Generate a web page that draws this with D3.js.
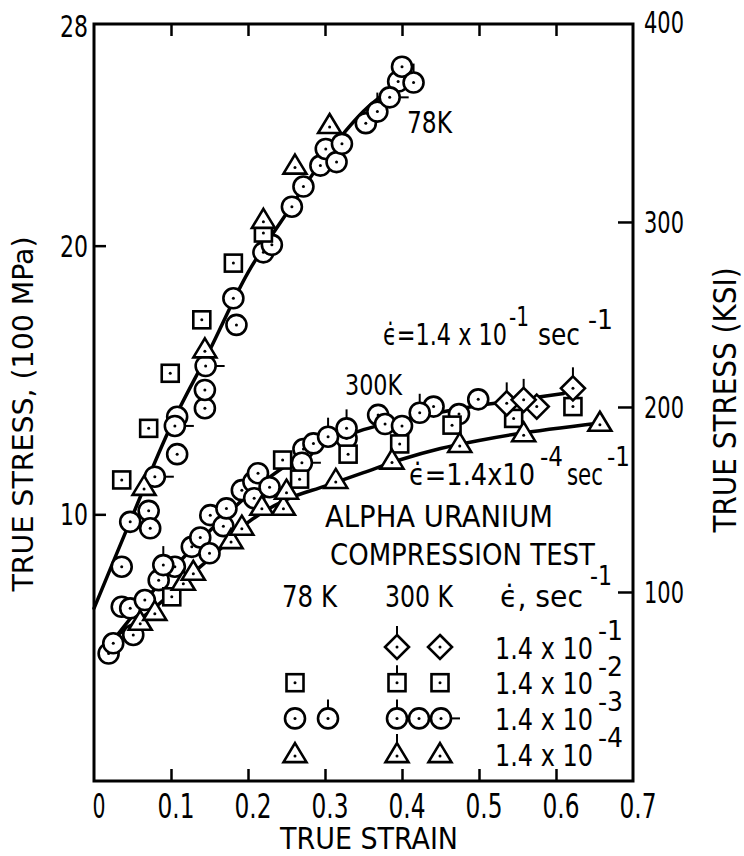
<!DOCTYPE html>
<html>
<head>
<meta charset="utf-8">
<script src="https://cdn.jsdelivr.net/npm/d3@7"></script>
<style>
  body { margin: 0; background: #fff; }
  text { font-family: "DejaVu Sans Condensed", "Liberation Sans Narrow", "DejaVu Sans", sans-serif; fill: #000; }
</style>
</head>
<body>
<div id="chart"></div>
<script>
// ---- axis ticks
const strainTicks = [0, 0.1, 0.2, 0.3, 0.4, 0.5, 0.6, 0.7];
const strainLabels = ['0', '0.1', '0.2', '0.3', '0.4', '0.5', '0.6', '0.7'];
const stressTicks = [10, 20, 28];
const ksiTicks = [100, 200, 300, 400];

// ---- fitted curves (strain, stress in 100 MPa)
const fit78 = [[0, 6.5], [0.05, 9.95], [0.1, 13.3], [0.15, 16.1], [0.2, 19.0], [0.25, 21.2],
  [0.3, 23.3], [0.35, 25.0], [0.4, 26.2], [0.41, 26.6]];
const fit300Fast = [[0.03, 5.5], [0.08, 7.25], [0.13, 8.8], [0.18, 10.2], [0.22, 11.2], [0.26, 12.0],
  [0.3, 12.6], [0.35, 13.15], [0.4, 13.5], [0.45, 13.8], [0.5, 14.05], [0.55, 14.25], [0.61, 14.5]];
const fit300Slow = [[0.03, 5.5], [0.08, 6.55], [0.12, 7.6], [0.16, 8.6], [0.2, 9.7], [0.25, 10.55],
  [0.3, 11.05], [0.35, 11.55], [0.4, 12.05], [0.45, 12.45], [0.5, 12.75], [0.55, 13.0], [0.657, 13.4]];

// ---- 78 K data points
const k78Squares = [[0.036, 11.28], [0.071, 13.2], [0.099, 15.25], [0.14, 17.24], [0.181, 19.35], [0.22, 20.47]];
const k78Triangles = [[0.065, 11.02], [0.144, 16.14], [0.22, 20.96], [0.261, 22.98], [0.306, 24.49]];
const k78Circles = [[0.036, 8.05], [0.047, 9.72], [0.071, 10.13], [0.073, 9.48], [0.108, 12.24], [0.108, 13.63],
  [0.144, 13.95], [0.144, 14.63], [0.181, 18.04], [0.185, 17.05], [0.22, 19.75], [0.231, 20.03], [0.257, 21.45],
  [0.272, 22.2], [0.294, 22.98], [0.301, 23.6], [0.315, 23.11], [0.322, 23.79], [0.353, 24.56], [0.395, 26.11],
  [0.4, 26.66]];
const k78CirclesTop = [[0.368, 24.99], [0.415, 26.07]];
const k78CirclesRight = [[0.079, 11.4], [0.105, 13.29], [0.145, 15.52], [0.384, 25.52]];

// ---- 300 K data points
const k300DiamondsTop = [[0.536, 14.13], [0.558, 14.26], [0.622, 14.69]];
const k300Diamonds = [[0.575, 14.01]];
const k300Squares = [[0.101, 6.93], [0.245, 12.02], [0.267, 11.31], [0.33, 12.24], [0.397, 12.62],
  [0.465, 13.32], [0.545, 13.57], [0.622, 14.01]];
const k300Circles = [[0.019, 4.82], [0.025, 5.2], [0.036, 6.56], [0.047, 6.5], [0.051, 5.51], [0.066, 6.81],
  [0.084, 7.55], [0.105, 8.05], [0.127, 8.79], [0.138, 9.14], [0.15, 8.55], [0.151, 9.97], [0.168, 9.56],
  [0.172, 10.22], [0.192, 10.9], [0.207, 11.21], [0.208, 10.6], [0.213, 11.53], [0.228, 11.01], [0.272, 12.43],
  [0.285, 12.64], [0.328, 12.83], [0.369, 13.7], [0.378, 13.36], [0.4, 13.29], [0.441, 14.01], [0.474, 13.73],
  [0.499, 14.28]];
const k300CirclesTop = [[0.09, 8.11], [0.304, 12.89], [0.328, 13.2], [0.423, 13.78]];
const k300CirclesRight = [[0.27, 11.92]];
const k300Triangles = [[0.06, 6.0], [0.079, 6.37], [0.116, 7.49], [0.129, 7.86], [0.178, 9.04], [0.192, 9.54],
  [0.218, 10.28], [0.246, 10.28], [0.25, 10.88], [0.314, 11.28], [0.387, 12.0], [0.475, 12.62], [0.558, 13.02],
  [0.657, 13.41]];

// ---- legend
const legendExps = ['-1', '-2', '-3', '-4'];
const legend78 = [[], [['square', null]], [['circle', null], ['circle', 'top']], [['triangle', null]]];
const legend300 = [[['diamond', 'top'], ['diamond', null]], [['square', 'top'], ['square', null]],
  [['circle', 'top'], ['circle', null], ['circle', 'right']], [['triangle', 'top'], ['triangle', null]]];

const W = 744, H = 856;
const frameL = 94, frameR = 633, frameT = 24, frameB = 781;

let svg = d3.select('#chart').append('svg')
  .attr('width', W)
  .attr('height', H);

let x = d3.scaleLinear().domain([0, 0.7]).range([frameL, frameR]);
let y = d3.scaleLinear().domain([0, 28.25]).range([783, frameT]);
let yKsi = d3.scaleLinear().domain([-3.24, 407]).range([783, frameT]);

// frame
svg.append('rect')
  .attr('x', frameL).attr('y', frameT)
  .attr('width', frameR - frameL).attr('height', frameB - frameT)
  .attr('fill', 'none').attr('stroke', '#000').attr('stroke-width', 3);

// inward ticks with the axis generators, labels drawn separately
function tickOnly(g) {
  g.select('.domain').remove();
  g.selectAll('text').remove();
  g.selectAll('line').attr('stroke', '#000').attr('stroke-width', 2.5);
}
let inner = strainTicks.filter(d => d > 0 && d < 0.7);
svg.append('g').attr('transform', `translate(0,${frameB})`)
  .call(d3.axisTop(x).tickValues(inner).tickSize(12)).call(tickOnly);
svg.append('g').attr('transform', `translate(0,${frameT})`)
  .call(d3.axisBottom(x).tickValues(inner).tickSize(12)).call(tickOnly);
svg.append('g').attr('transform', `translate(${frameL},0)`)
  .call(d3.axisRight(y).tickValues(stressTicks.filter(d => d < 28)).tickSize(12)).call(tickOnly);
svg.append('g').attr('transform', `translate(${frameR},0)`)
  .call(d3.axisLeft(yKsi).tickValues(ksiTicks.filter(d => d < 400)).tickSize(15)).call(tickOnly);

// tick labels
svg.selectAll('.xl').data(strainTicks).enter()
  .append('text')
    .attr('x', d => x(d) + 5)
    .attr('y', 818)
    .attr('text-anchor', 'middle')
    .attr('font-size', 34)
    .attr('textLength', (d, i) => i == 0 ? 13 : 37)
    .attr('lengthAdjust', 'spacingAndGlyphs')
    .text((d, i) => strainLabels[i]);

svg.selectAll('.yl').data(stressTicks).enter()
  .append('text')
    .attr('x', 88)
    .attr('y', d => d == 28 ? 37 : y(d) + 11)
    .attr('text-anchor', 'end')
    .attr('font-size', 31)
    .attr('textLength', 28)
    .attr('lengthAdjust', 'spacingAndGlyphs')
    .text(d => d);

svg.selectAll('.kl').data(ksiTicks).enter()
  .append('text')
    .attr('x', 644)
    .attr('y', d => d == 400 ? 33 : yKsi(d) + 11)
    .attr('font-size', 31)
    .attr('textLength', 40)
    .attr('lengthAdjust', 'spacingAndGlyphs')
    .text(d => d);

// plain text helper
function txt(str, x0, yb, size, len, extra) {
  let t = svg.append('text')
    .attr('x', x0).attr('y', yb)
    .attr('font-size', size)
    .text(str);
  if (len) t.attr('textLength', len).attr('lengthAdjust', 'spacingAndGlyphs');
  if (extra) extra(t);
  return t;
}
// one text made of pieces: [string, x, baseline, size, length]
function multi(parts) {
  let t = svg.append('text');
  parts.forEach(p => {
    t.append('tspan')
      .attr('x', p[1]).attr('y', p[2])
      .attr('font-size', p[3])
      .attr('textLength', p[4])
      .attr('lengthAdjust', 'spacingAndGlyphs')
      .text(p[0]);
  });
  return t;
}

txt('TRUE STRAIN', 280, 849, 31, 178);
txt('TRUE STRESS, (100 MPa)', 0, 0, 28, 355, t => t
  .attr('text-anchor', 'middle')
  .attr('transform', 'translate(33,414) rotate(-90)'));
txt('TRUE STRESS (KSI)', 0, 0, 32, 265, t => t
  .attr('text-anchor', 'middle')
  .attr('transform', 'translate(736,400) rotate(-90)'));

// curves
let line = d3.line()
  .x(d => x(d[0]))
  .y(d => y(d[1]))
  .curve(d3.curveCatmullRom);
[fit78, fit300Fast, fit300Slow].forEach(c => {
  svg.append('path')
    .attr('d', line(c))
    .attr('fill', 'none')
    .attr('stroke', '#000')
    .attr('stroke-width', 3.5)
    .attr('stroke-linecap', 'round');
});

// markers
function marker(g, shape, tick) {
  let edge = 10, dotY = 0;
  if (shape == 'circle') {
    g.append('circle').attr('r', 10);
  }
  if (shape == 'square') {
    g.append('rect').attr('x', -8.5).attr('y', -8.5).attr('width', 17).attr('height', 17);
    edge = 8.5;
  }
  if (shape == 'triangle') {
    g.append('path').attr('d', 'M0,-11L11.5,8L-11.5,8Z');
    edge = 11; dotY = 2;
  }
  if (shape == 'diamond') {
    g.append('path').attr('d', 'M0,-12L12,0L0,12L-12,0Z');
    edge = 12;
  }
  g.selectAll('circle,rect,path')
    .attr('fill', '#fff').attr('stroke', '#000').attr('stroke-width', 2.6);
  g.append('circle').attr('cy', dotY).attr('r', 1.5).attr('fill', '#000');
  if (tick == 'top') {
    g.append('line').attr('x1', 0).attr('x2', 0).attr('y1', -edge).attr('y2', -edge - 9)
      .attr('stroke', '#000').attr('stroke-width', 2);
  }
  if (tick == 'right') {
    g.append('line').attr('x1', edge).attr('x2', edge + 9).attr('y1', 0).attr('y2', 0)
      .attr('stroke', '#000').attr('stroke-width', 2);
  }
}

let seriesList = [
  { pts: k78Circles, shape: 'circle', tick: null },
  { pts: k78CirclesTop, shape: 'circle', tick: 'top' },
  { pts: k78CirclesRight, shape: 'circle', tick: 'right' },
  { pts: k78Squares, shape: 'square', tick: null },
  { pts: k78Triangles, shape: 'triangle', tick: null },
  { pts: k300Circles, shape: 'circle', tick: null },
  { pts: k300CirclesTop, shape: 'circle', tick: 'top' },
  { pts: k300CirclesRight, shape: 'circle', tick: 'right' },
  { pts: k300Squares, shape: 'square', tick: null },
  { pts: k300Triangles, shape: 'triangle', tick: null },
  { pts: k300Diamonds, shape: 'diamond', tick: null },
  { pts: k300DiamondsTop, shape: 'diamond', tick: 'top' }
];
seriesList.forEach(s => {
  svg.append('g').selectAll('g').data(s.pts).enter()
    .append('g')
      .attr('transform', d => `translate(${x(d[0])},${y(d[1])})`)
      .each(function () { marker(d3.select(this), s.shape, s.tick); });
});

// annotations
const eps = '\u03F5\u0307';
txt('78K', 407, 133, 30, 45);
txt('300K', 345, 395, 28, 57);
multi([[eps + '=1.4 x 10', 383, 345, 30, 124], ['-1', 509, 326, 27, 20],
  ['sec', 538, 345, 30, 42], ['-1', 588, 329, 27, 25]]);
multi([[eps + '=1.4x10', 409, 485, 30, 126], ['-4', 540, 466, 27, 23],
  ['sec', 567, 485, 30, 36], ['-1', 607, 466, 27, 23]]);
txt('ALPHA URANIUM', 325, 527, 30, 228);
txt('COMPRESSION TEST', 330, 565, 30, 265);

// legend
txt('78 K', 282, 607, 30, 55);
txt('300 K', 385, 607, 30, 68);
multi([[eps + ', sec', 500, 607, 30, 83], ['-1', 590, 585, 26, 22]]);

legendExps.forEach((e, i) => {
  let rowY = 647 + i * 35.7;
  multi([['1.4 x 10', 495, rowY + 11.5, 30, 98], [e, 598, rowY - 7, 27, 25]]);
  legend78[i].forEach((m, j) => {
    let g = svg.append('g').attr('transform', `translate(${295 + j * 33},${rowY})`);
    marker(g, m[0], m[1]);
  });
  let n = legend300[i].length;
  legend300[i].forEach((m, j) => {
    let gap = n == 3 ? 22 : 43;
    let g = svg.append('g').attr('transform', `translate(${397 + j * gap},${rowY})`);
    marker(g, m[0], m[1]);
  });
});
</script>
</body>
</html>
